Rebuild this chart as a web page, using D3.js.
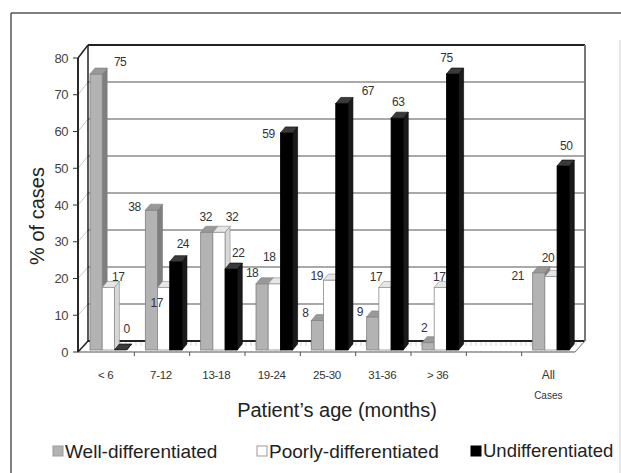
<!DOCTYPE html>
<html><head><meta charset="utf-8">
<script src="https://cdn.jsdelivr.net/npm/d3@7/dist/d3.min.js"></script>
<style>
html,body{margin:0;padding:0;background:#fff;}
svg{display:block;font-family:"Liberation Sans",Arial,sans-serif;}
</style></head>
<body>
<svg id="chart" width="621" height="473"></svg>
<script>
// ---- data ----
const categories = ["< 6", "7-12", "13-18", "19-24", "25-30", "31-36", "> 36", "", "All Cases"];
const seriesNames = ["Well-differentiated", "Poorly-differentiated", "Undifferentiated"];
const wellValues   = [75, 38, 32, 18, 8, 9, 2, null, 21];
const poorlyValues = [17, 17, 32, 18, 19, 17, 17, null, 20];
const undiffValues = [0, 24, 22, 59, 67, 63, 75, null, 50];
const yTicks = [0, 10, 20, 30, 40, 50, 60, 70, 80];

// label nudges (layout only, px relative to default label spot)
const wellNudge   = [[19,3],[-22,12],[-6,0],[-15,4],[-17,7],[-18,10],[-9,0],null,[-26,18]];
const poorlyNudge = [[5,4],[-12,30],[8,0],[-10,-12],[-18,11],[-14,4],[-6,4],null,[-8,-4]];
const undiffNudge = [[1,-6],[2,-3],[2,-1],[-23,16],[21,2],[-4,-1],[-11,-1],null,[-2,-5]];

const series = [
  {name: seriesNames[0], values: wellValues, nudge: wellNudge, front: "#b3b3b3", side: "#7f7f7f", top: "#999", stroke: "#808080", legendStroke: "#999"},
  {name: seriesNames[1], values: poorlyValues, nudge: poorlyNudge, front: "#ffffff", side: "#d8d8d8", top: "#e6e6e6", stroke: "#8a8a8a", legendStroke: "#999"},
  {name: seriesNames[2], values: undiffValues, nudge: undiffNudge, front: "#000000", side: "#1a1a1a", top: "#3a3a3a", stroke: "#000", legendStroke: "#000"}
];

const svg = d3.select("#chart");

// outer frame
svg.append("line").attr("x1", 11).attr("y1", 13).attr("x2", 621).attr("y2", 13).attr("stroke", "#555").attr("stroke-width", 1.5);
svg.append("line").attr("x1", 11).attr("y1", 13).attr("x2", 11).attr("y2", 473).attr("stroke", "#555").attr("stroke-width", 1.5);
svg.append("line").attr("x1", 620).attr("y1", 40).attr("x2", 620).attr("y2", 473).attr("stroke", "#d0d0d0").attr("stroke-width", 1);

// geometry
const DX = 10, DY = -11;
const yFront = d3.scaleLinear().domain([0, 80]).range([352, 58]);
const yBack  = d3.scaleLinear().domain([0, 80]).range([341, 45]);
const yBar   = d3.scaleLinear().domain([0, 80]).range([350, 55.6]);
const bx = 5, by = -6;
const x = d3.scaleBand().domain(categories.map((c, i) => i)).range([79, 577]).paddingInner(0).paddingOuter(0);
const barW = 12.2, barOff = 11;

const leftX = 78, rightBack = 585;

// back wall gridlines
yTicks.filter(t => t > 0 && t < 80).forEach(t => {
  svg.append("line").attr("x1", leftX + DX).attr("x2", rightBack)
    .attr("y1", yBack(t)).attr("y2", yBack(t))
    .attr("stroke", "#8c8c8c").attr("stroke-width", 1.5);
  svg.append("line").attr("x1", leftX).attr("y1", yFront(t)).attr("x2", leftX + DX).attr("y2", yBack(t))
    .attr("stroke", "#c8c8c8").attr("stroke-width", 1);
});

// floor hatching
const defs = svg.append("defs");
const pat = defs.append("pattern").attr("id", "hatch").attr("patternUnits", "userSpaceOnUse").attr("width", 5).attr("height", 12);
pat.append("line").attr("x1", 1).attr("y1", 3).attr("x2", 1).attr("y2", 10).attr("stroke", "#d6d6d6").attr("stroke-width", 1);
svg.append("path")
  .attr("d", `M${leftX},${yFront(0)} L${leftX + DX},${yBack(0)} L${rightBack},${yBack(0)} L${rightBack - DX},${yFront(0)} Z`)
  .attr("fill", "url(#hatch)");

// back wall frame
svg.append("line").attr("x1", leftX + DX).attr("x2", rightBack).attr("y1", yBack(80)).attr("y2", yBack(80)).attr("stroke", "#222").attr("stroke-width", 2);
svg.append("line").attr("x1", leftX + DX).attr("x2", rightBack).attr("y1", yBack(0)).attr("y2", yBack(0)).attr("stroke", "#222").attr("stroke-width", 2);
svg.append("line").attr("x1", rightBack).attr("x2", rightBack).attr("y1", yBack(80)).attr("y2", yBack(0)).attr("stroke", "#777").attr("stroke-width", 2);
svg.append("line").attr("x1", leftX + DX).attr("x2", leftX + DX).attr("y1", yBack(80)).attr("y2", yBack(0)).attr("stroke", "#222").attr("stroke-width", 1.5);
svg.append("line").attr("x1", leftX).attr("y1", yFront(80)).attr("x2", leftX + DX).attr("y2", yBack(80)).attr("stroke", "#222").attr("stroke-width", 1.5);
svg.append("line").attr("x1", leftX).attr("y1", yFront(0)).attr("x2", leftX + DX).attr("y2", yBack(0)).attr("stroke", "#222").attr("stroke-width", 1.5);

// bars
const labels = [];
categories.forEach((c, i) => {
  series.forEach((s, k) => {
    const v = s.values[i];
    if (v === null || v === undefined) return;
    const x0 = x(i) + barOff + k * barW, x1 = x0 + barW;
    const yt = yBar(v), yb = yBar(0);
    const g = svg.append("g");
    g.append("path").attr("d", `M${x1},${yb} L${x1 + bx},${yb + by} L${x1 + bx},${yt + by} L${x1},${yt} Z`)
      .attr("fill", s.side).attr("stroke", s.stroke).attr("stroke-width", 0.6);
    g.append("rect").attr("x", x0).attr("y", yt).attr("width", barW).attr("height", Math.max(0, yb - yt))
      .attr("fill", s.front).attr("stroke", s.stroke).attr("stroke-width", 0.8);
    g.append("path").attr("d", `M${x0},${yt} L${x0 + bx},${yt + by} L${x1 + bx},${yt + by} L${x1},${yt} Z`)
      .attr("fill", s.top).attr("stroke", s.stroke).attr("stroke-width", 0.6);
    const n = s.nudge[i] || [0, 0];
    labels.push({t: v, x: x0 + barW / 2 + bx + n[0], y: yt + by - 9 + n[1]});
  });
});

// front axis line & floor front edge
svg.append("line").attr("x1", leftX).attr("x2", leftX).attr("y1", yFront(80)).attr("y2", yFront(0)).attr("stroke", "#111").attr("stroke-width", 1.8);
svg.append("line").attr("x1", leftX).attr("x2", rightBack - DX).attr("y1", yFront(0)).attr("y2", yFront(0)).attr("stroke", "#555").attr("stroke-width", 1);
svg.append("line").attr("x1", rightBack - DX).attr("y1", yFront(0)).attr("x2", rightBack).attr("y2", yBack(0)).attr("stroke", "#777").attr("stroke-width", 1);

// y axis ticks and labels
const yAxis = svg.append("g");
yTicks.forEach(t => {
  yAxis.append("line").attr("x1", leftX - 5).attr("x2", leftX).attr("y1", yFront(t)).attr("y2", yFront(t)).attr("stroke", "#333").attr("stroke-width", 1);
  yAxis.append("text").attr("x", 68).attr("y", yFront(t)).attr("dy", "0.35em").attr("text-anchor", "end")
    .attr("font-size", 13).attr("fill", "#444").attr("letter-spacing", -0.5).text(t);
});

// x ticks at band boundaries
categories.forEach((c, i) => {
  if (i === 0) return;
  svg.append("line").attr("x1", x(i)).attr("x2", x(i)).attr("y1", yFront(0)).attr("y2", yFront(0) + 4).attr("stroke", "#555");
});

// x labels
categories.forEach((c, i) => {
  if (!c) return;
  const cx = x(i) + x.bandwidth() / 2 - 1;
  if (c === "All Cases") {
    svg.append("text").attr("x", cx).attr("y", 375).attr("dy", "0.35em").attr("text-anchor", "middle").attr("font-size", 12).attr("fill", "#333").text("All");
    svg.append("text").attr("x", cx).attr("y", 395).attr("dy", "0.35em").attr("text-anchor", "middle").attr("font-size", 10).attr("fill", "#333").text("Cases");
  } else {
    svg.append("text").attr("x", cx).attr("y", 375).attr("dy", "0.35em").attr("text-anchor", "middle").attr("font-size", 11.5).attr("fill", "#333").attr("letter-spacing", -0.3).text(c);
  }
});

// data labels
labels.forEach(l => {
  svg.append("text").attr("x", l.x).attr("y", l.y).attr("dy", "0.35em").attr("text-anchor", "middle")
    .attr("font-size", 12).attr("fill", "#333").attr("letter-spacing", -0.5).text(l.t);
});

// axis titles
svg.append("text").attr("transform", "translate(37,216) rotate(-90)").attr("text-anchor", "middle").attr("dy", "0.35em")
  .attr("font-size", 20).attr("fill", "#222").text("% of cases");
svg.append("text").attr("x", 337).attr("y", 410).attr("dy", "0.35em").attr("text-anchor", "middle")
  .attr("font-size", 20).attr("fill", "#222").text("Patient\u2019s age (months)");

// legend
const legendX = [53, 257, 471];
series.forEach((s, k) => {
  const lg = svg.append("g").attr("transform", `translate(${legendX[k]},451)`);
  lg.append("rect").attr("x", 0).attr("y", -5).attr("width", 10).attr("height", 10)
    .attr("fill", s.front).attr("stroke", s.legendStroke).attr("stroke-width", 1);
  lg.append("text").attr("x", 12).attr("y", 0).attr("dy", "0.35em").attr("font-size", k === 2 ? 18.5 : 19).attr("fill", "#222").text(s.name);
});
</script>
</body></html>
